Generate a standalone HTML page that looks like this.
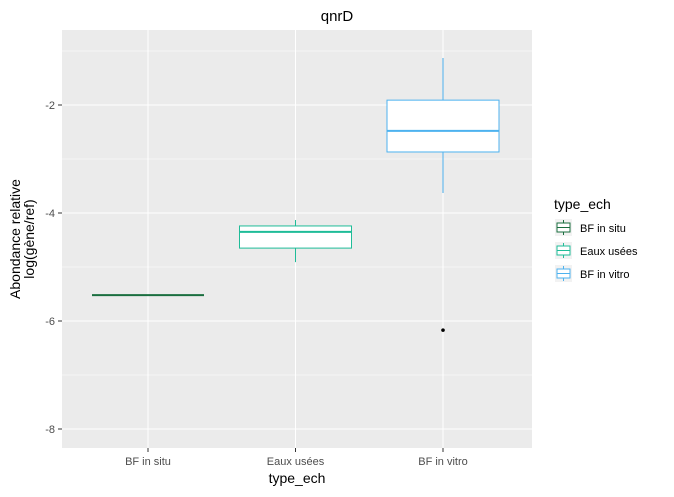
<!DOCTYPE html>
<html><head><meta charset="utf-8"><style>
body{margin:0;background:#fff;font-family:"Liberation Sans",sans-serif}
</style></head><body>
<svg id="chart" width="674" height="492" xmlns="http://www.w3.org/2000/svg" font-family="Liberation Sans, sans-serif">
<rect x="62" y="30" width="470" height="418" fill="#ebebeb"/>
<g id="grid"></g>
<g id="boxes"></g>
<g id="yticks"></g>
<g id="xticks"></g>
<text x="337" y="21" text-anchor="middle" font-size="15" fill="#000">qnrD</text>
<text x="297" y="483" text-anchor="middle" font-size="14" fill="#000">type_ech</text>
<g transform="translate(20,239) rotate(-90)">
<text x="0" y="0" text-anchor="middle" font-size="14">Abondance relative</text>
<text x="0" y="14" text-anchor="middle" font-size="14">log(gène/ref)</text>
</g>
<g id="legend">
<text x="554" y="209" font-size="14">type_ech</text>
</g>
</svg>
<script>
const categories=["BF in situ","Eaux usées","BF in vitro"];
const colors=["#1a6e3f","#1fbc98","#4db2ef"];
const lowerWhisker=[-5.52,-4.91,-3.63];
const q1=[-5.52,-4.65,-2.87];
const median=[-5.52,-4.35,-2.48];
const q3=[-5.52,-4.24,-1.91];
const upperWhisker=[-5.52,-4.13,-1.13];
const outliers=[[],[],[-6.17]];
const yTicks=[-2,-4,-6,-8];
const NS="http://www.w3.org/2000/svg";
const y=v=>105+(-2-v)*54;
const x=i=>148+i*147.5;
const bw=112;
function mk(tag,attrs,parent){const e=document.createElementNS(NS,tag);for(const k in attrs)e.setAttribute(k,attrs[k]);parent.appendChild(e);return e;}
const grid=document.getElementById('grid');
for(let v=-1;v>=-9;v-=2){const l=mk('line',{x1:62,x2:532,y1:y(v),y2:y(v),stroke:'#fff','stroke-width':0.5},grid);

}
yTicks.forEach(v=>{const l=mk('line',{x1:62,x2:532,y1:y(v),y2:y(v),stroke:'#fff','stroke-width':1},grid);


const yt=document.getElementById('yticks');
const t=mk('text',{x:55,y:y(v)+4,'text-anchor':'end','font-size':11,fill:'#4d4d4d'},yt);t.textContent=v;


const tk=mk('line',{x1:58,x2:62,y1:y(v),y2:y(v),stroke:'#333'},yt);

});
categories.forEach((c,i)=>{const l=mk('line',{x1:x(i),x2:x(i),y1:30,y2:448,stroke:'#fff','stroke-width':1},grid);


const xt=document.getElementById('xticks');
const tk=mk('line',{x1:x(i),x2:x(i),y1:448,y2:452,stroke:'#333'},xt);


const t=mk('text',{x:x(i),y:465,'text-anchor':'middle','font-size':11,fill:'#4d4d4d'},xt);t.textContent=c;


const g=mk('g',{},document.getElementById('boxes'));


const col=colors[i];
mk('line',{x1:x(i),x2:x(i),y1:y(upperWhisker[i]),y2:y(q3[i]),stroke:col},g);
mk('line',{x1:x(i),x2:x(i),y1:y(q1[i]),y2:y(lowerWhisker[i]),stroke:col},g);
mk('rect',{x:x(i)-bw/2,y:y(q3[i]),width:bw,height:Math.max(0,y(q1[i])-y(q3[i])),fill:'#fff',stroke:col},g);
mk('line',{x1:x(i)-bw/2,x2:x(i)+bw/2,y1:y(median[i]),y2:y(median[i]),stroke:col,'stroke-width':2},g);
outliers[i].forEach(o=>{const p=mk('circle',{cx:x(i),cy:y(o),r:1.8,fill:'#000'},g);

});
const lg=document.getElementById('legend');
const ly=219+i*23;
const k=mk('g',{},lg);


mk('rect',{x:555,y:ly,width:17,height:17,fill:'#f2f2f2'},k);
mk('line',{x1:563.5,x2:563.5,y1:ly+1,y2:ly+16,stroke:col},k);
mk('rect',{x:557,y:ly+4,width:13,height:9,fill:'#fff',stroke:col},k);
mk('line',{x1:557,x2:570,y1:ly+8.5,y2:ly+8.5,stroke:col},k);
const lt=mk('text',{x:580,y:ly+13,'font-size':11,fill:'#000'},k);lt.textContent=c;});
</script>
</body></html>
